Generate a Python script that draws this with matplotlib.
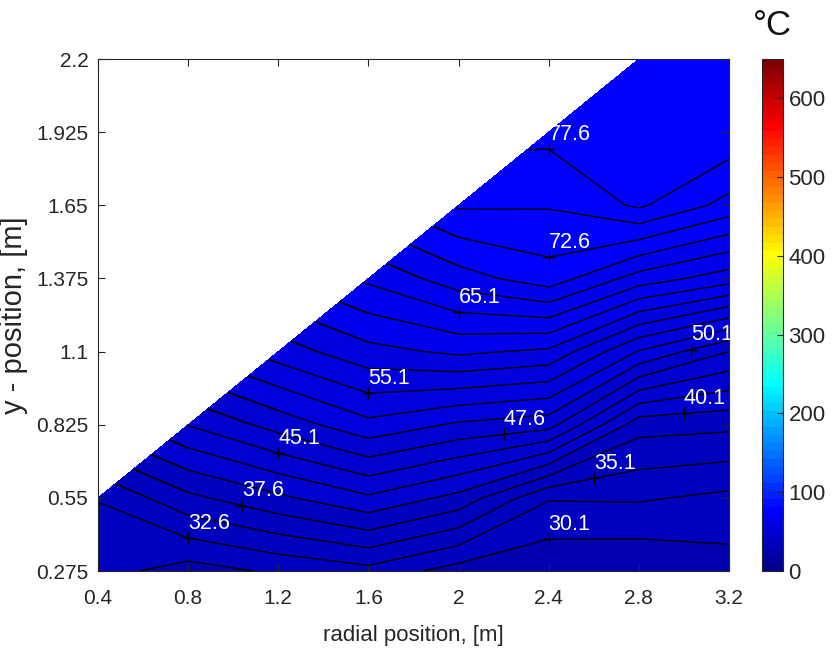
import numpy as np
import matplotlib
matplotlib.use('Agg')
import matplotlib.pyplot as plt
import matplotlib.tri as mtri
from matplotlib.colors import ListedColormap, Normalize
from matplotlib.cm import ScalarMappable

plt.rcParams['font.family'] = ['Liberation Sans', 'DejaVu Sans']

# grid of measurement positions
x_pos = [0.4, 0.8, 1.2, 1.6, 2.0, 2.4, 2.8, 3.2]
y_pos = [0.275, 0.55, 0.825, 1.1, 1.375, 1.65, 1.925, 2.2]

# temperature [degC], one row per y position, None = outside domain
t_0275 = [31.0, 29.0, 30.5, 31.8, 29.0, 28.0, 27.9, 29.0]
t_0550 = [32.7, 37.0, 39.6, 42.2, 39.3, 32.8, 32.9, 32.0]
t_0825 = [None, 45.2, 48.6, 51.9, 49.7, 48.6, 38.6, 38.2]
t_1100 = [None, None, 56.3, 59.3, 60.6, 59.6, 52.4, 47.6]
t_1375 = [None, None, None, 65.6, 69.0, 71.5, 66.5, 63.8]
t_1650 = [None, None, None, None, 75.4, 75.3, 78.0, 74.2]
t_1925 = [None, None, None, None, None, 78.3, 79.6, 79.6]
t_2200 = [None, None, None, None, None, None, 79.8, 79.7]
temps = [t_0275, t_0550, t_0825, t_1100, t_1375, t_1650, t_1925, t_2200]

levels = np.arange(27.6, 82.0, 2.5)
# contour labels: (level, x where the label sits)
label_spots = [(77.6, 2.4), (72.6, 2.4), (65.1, 2.0), (55.1, 1.6), (50.1, 3.03),
               (40.1, 3.0), (47.6, 2.2), (45.1, 1.2), (35.1, 2.6), (37.6, 1.04),
               (32.6, 0.8), (30.1, 2.4)]

xticks = [0.4, 0.8, 1.2, 1.6, 2.0, 2.4, 2.8, 3.2]
xticklabels = ['0.4', '0.8', '1.2', '1.6', '2', '2.4', '2.8', '3.2']
yticklabels = ['0.275', '0.55', '0.825', '1.1', '1.375', '1.65', '1.925', '2.2']
cticks = [0, 100, 200, 300, 400, 500, 600]


def matlab_jet(m=64):
    n = int(np.ceil(m / 4))
    u = np.concatenate([np.arange(1, n + 1) / n, np.ones(n - 1), np.arange(n, 0, -1) / n])
    g = int(np.ceil(n / 2)) - (m % 4 == 1) + np.arange(1, len(u) + 1)
    r = g + n
    b = g - n
    g = g[g <= m]
    r = r[r <= m]
    b = b[b >= 1]
    J = np.zeros((m, 3))
    J[r - 1, 0] = u[:len(r)]
    J[g - 1, 1] = u[:len(g)]
    J[b - 1, 2] = u[len(u) - len(b):]
    return ListedColormap(J)


X, Y = np.meshgrid(x_pos, y_pos)
Z = np.ma.masked_invalid(np.array([[np.nan if v is None else v for v in row] for row in temps]))

# cells cut by the domain edge: keep the lower-right triangle
px, py, pz, idx = [], [], [], {}
for j, row in enumerate(temps):
    for i, v in enumerate(row):
        if v is not None:
            idx[(i, j)] = len(px)
            px.append(x_pos[i]); py.append(y_pos[j]); pz.append(v)
tris = []
for j in range(len(y_pos) - 1):
    for i in range(len(x_pos) - 1):
        if (i, j + 1) not in idx and (i, j) in idx:
            tris.append([idx[(i, j)], idx[(i + 1, j)], idx[(i + 1, j + 1)]])
tri = mtri.Triangulation(px, py, tris)

cmap = matlab_jet(64)
norm = Normalize(0, 650)

fig = plt.figure(figsize=(8.32, 6.6), dpi=100)
ax = fig.add_axes([0.1178, 0.1348, 0.7584, 0.7758])
for k in range(2):
    ax.contourf(X, Y, Z, levels=levels, cmap=cmap, norm=norm)
    ax.tricontourf(tri, pz, levels=levels, cmap=cmap, norm=norm)
cs1 = ax.contour(X, Y, Z, levels=levels, colors='k', linewidths=1.0)
cs2 = ax.tricontour(tri, pz, levels=levels, colors='k', linewidths=1.0)


def point_on_level(lev, xq):
    for cs in (cs1, cs2):
        k = int(np.argmin(np.abs(cs.levels - lev)))
        for seg in cs.allsegs[k]:
            xs, ys = seg[:, 0], seg[:, 1]
            for n in range(len(xs) - 1):
                if (xs[n] - xq) * (xs[n + 1] - xq) <= 0 and xs[n] != xs[n + 1]:
                    f = (xq - xs[n]) / (xs[n + 1] - xs[n])
                    return xq, ys[n] + f * (ys[n + 1] - ys[n])
    return None


for lev, xq in label_spots:
    p = point_on_level(lev, xq)
    if p is None:
        continue
    ax.plot(p[0], p[1], '+', color='k', ms=9, mew=1.0)
    ax.annotate('%.1f' % lev, p, xytext=(0, 3), textcoords='offset points',
                ha='left', va='bottom', color='white', fontsize=15.5, annotation_clip=False)

ax.set_xlim(0.4, 3.2)
ax.set_ylim(0.275, 2.2)
ax.set_xticks(xticks)
ax.set_xticklabels(xticklabels)
ax.set_yticks(y_pos)
ax.set_yticklabels(yticklabels)
ax.tick_params(direction='in', top=True, right=True, length=5, labelsize=15,
               colors='#262626', pad=7)
ax.tick_params(axis='x', pad=13)
for s in ax.spines.values():
    s.set_color('#262626')
ax.set_xlabel('radial position, [m]', fontsize=16, color='#262626', labelpad=12)
ax.set_ylabel('y - position, [m]', fontsize=21, color='#262626', labelpad=6)

cax = fig.add_axes([0.916, 0.1348, 0.025, 0.7758])
cb = fig.colorbar(ScalarMappable(norm=norm, cmap=cmap), cax=cax, ticks=cticks)
cb.ax.tick_params(direction='in', length=4, labelsize=16, colors='#262626', pad=4)
cb.outline.set_edgecolor('#262626')
cax.set_title('°C', fontsize=25, color='#111111', pad=17)

fig.savefig('out.png', dpi=100)
